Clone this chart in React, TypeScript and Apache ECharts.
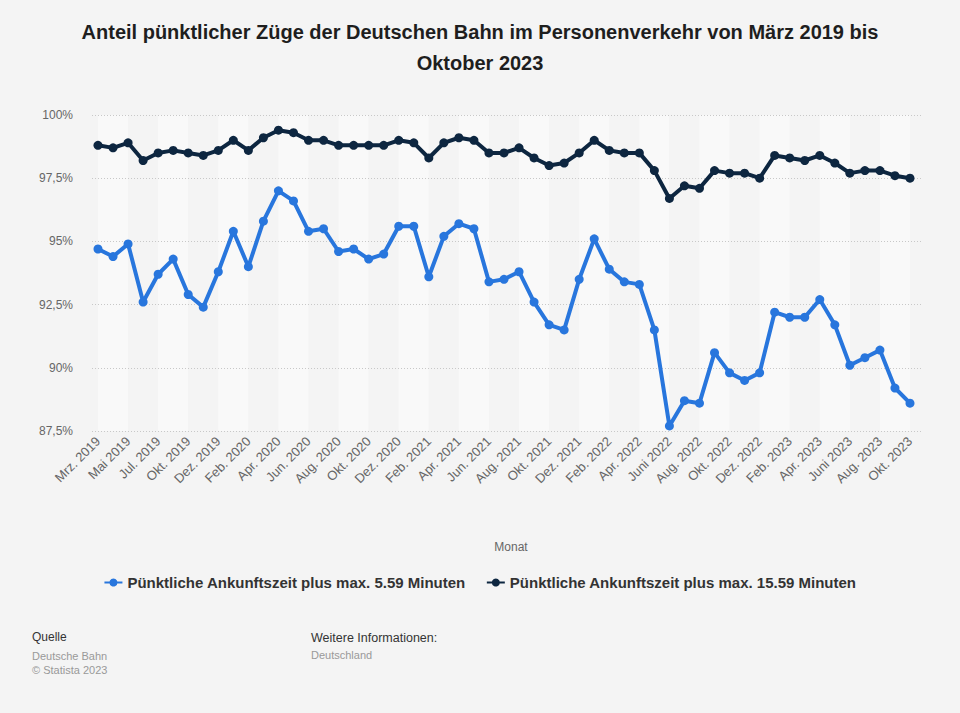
import React, { useEffect, useRef } from "react";
import * as echarts from "echarts";

const categories = [
  "Mrz. 2019", "Apr. 2019", "Mai 2019", "Jun. 2019", "Jul. 2019", "Aug. 2019", "Okt. 2019", "Nov. 2019", "Dez. 2019",
  "Jan. 2020", "Feb. 2020", "Mrz. 2020", "Apr. 2020", "Mai 2020", "Jun. 2020", "Jul. 2020", "Aug. 2020", "Sep. 2020",
  "Okt. 2020", "Nov. 2020", "Dez. 2020", "Jan. 2021", "Feb. 2021", "Mrz. 2021", "Apr. 2021", "Mai 2021", "Jun. 2021",
  "Jul. 2021", "Aug. 2021", "Sep. 2021", "Okt. 2021", "Nov. 2021", "Dez. 2021", "Jan. 2022", "Feb. 2022", "Mrz. 2022",
  "Apr. 2022", "Mai 2022", "Juni 2022", "Juli 2022", "Aug. 2022", "Sep. 2022", "Okt. 2022", "Nov. 2022", "Dez. 2022",
  "Jan. 2023", "Feb. 2023", "Mrz. 2023", "Apr. 2023", "Mai 2023", "Juni 2023", "Juli 2023", "Aug. 2023", "Sep. 2023",
  "Okt. 2023",
];

const seriesNames = [
  "Pünktliche Ankunftszeit plus max. 5.59 Minuten",
  "Pünktliche Ankunftszeit plus max. 15.59 Minuten",
];

const values559 = [
  94.7, 94.4, 94.9, 92.6, 93.7, 94.3, 92.9, 92.4, 93.8, 95.4,
  94.0, 95.8, 97.0, 96.6, 95.4, 95.5, 94.6, 94.7, 94.3, 94.5,
  95.6, 95.6, 93.6, 95.2, 95.7, 95.5, 93.4, 93.5, 93.8, 92.6,
  91.7, 91.5, 93.5, 95.1, 93.9, 93.4, 93.3, 91.5, 87.7, 88.7,
  88.6, 90.6, 89.8, 89.5, 89.8, 92.2, 92.0, 92.0, 92.7, 91.7,
  90.1, 90.4, 90.7, 89.2, 88.6,
];

const values1559 = [
  98.8, 98.7, 98.9, 98.2, 98.5, 98.6, 98.5, 98.4, 98.6, 99.0,
  98.6, 99.1, 99.4, 99.3, 99.0, 99.0, 98.8, 98.8, 98.8, 98.8,
  99.0, 98.9, 98.3, 98.9, 99.1, 99.0, 98.5, 98.5, 98.7, 98.3,
  98.0, 98.1, 98.5, 99.0, 98.6, 98.5, 98.5, 97.8, 96.7, 97.2,
  97.1, 97.8, 97.7, 97.7, 97.5, 98.4, 98.3, 98.2, 98.4, 98.1,
  97.7, 97.8, 97.8, 97.6, 97.5,
];

const titleLines = [
  "Anteil pünktlicher Züge der Deutschen Bahn im Personenverkehr von März 2019 bis",
  "Oktober 2023",
];

const yMin = 87.5;
const yMax = 100;
const yStep = 2.5;

const FONT = "Arial, 'Liberation Sans', Helvetica, sans-serif";

export default function App() {
  const ref = useRef<HTMLDivElement>(null);

  useEffect(() => {
    document.body.style.margin = "0";
    if (!ref.current) return;
    const chart = echarts.init(ref.current, undefined, { renderer: "svg" });
    const fmtPct = (v: number) => String(v).replace(".", ",") + "%";
    chart.setOption({
      animation: false,
      backgroundColor: "#f4f4f4",
      textStyle: { fontFamily: FONT },
      grid: [
        { left: 98, right: 50, top: 115, bottom: 282, containLabel: false },
        { left: 92, right: 39, top: 115, bottom: 282, containLabel: false },
      ],
      xAxis: [
        {
          type: "category",
          gridIndex: 0,
          data: categories,
          boundaryGap: false,
          axisLine: { show: false },
          axisTick: { show: false, interval: 1 },
          axisLabel: {
            interval: 1,
            rotate: 45,
            color: "#666",
            fontSize: 13,
            fontFamily: FONT,
            margin: 8,
          },
          splitLine: { show: false },
          splitArea: {
            show: true,
            interval: 1,
            areaStyle: { color: ["#f9f9f9", "#f4f4f4"] },
          },
        },
        {
          type: "value",
          gridIndex: 1,
          show: false,
          min: 0,
          max: 1,
        },
      ],
      yAxis: [
        {
          type: "value",
          gridIndex: 0,
          min: yMin,
          max: yMax,
          interval: yStep,
          axisLabel: { show: false },
          axisLine: { show: false },
          axisTick: { show: false },
          splitLine: { show: false },
        },
        {
          type: "value",
          gridIndex: 1,
          z: 1,
          min: yMin,
          max: yMax,
          interval: yStep,
          axisLine: { show: false },
          axisTick: { show: false },
          axisLabel: {
            color: "#666",
            fontSize: 12,
            fontFamily: FONT,
            margin: 19,
            formatter: (v: number) => fmtPct(v),
          },
          splitLine: {
            show: true,
            lineStyle: { color: "#c8c8c8", type: [1, 2], width: 1 },
          },
        },
      ],
      legend: {
        top: 570,
        left: "center",
        itemGap: 20,
        itemWidth: 18,
        itemHeight: 10,
        textStyle: { fontFamily: FONT, fontSize: 15, fontWeight: "bold", color: "#333" },
        data: seriesNames,
      },
      graphic: [
        {
          type: "text",
          x: 480,
          y: 22,
          style: {
            text: titleLines[0],
            align: "center",
            fontFamily: FONT,
            fontSize: 20,
            fontWeight: "bold",
            fill: "#1e1e1e",
          },
        },
        {
          type: "text",
          x: 480,
          y: 53,
          style: {
            text: titleLines[1],
            align: "center",
            fontFamily: FONT,
            fontSize: 20,
            fontWeight: "bold",
            fill: "#1e1e1e",
          },
        },
        {
          type: "text",
          x: 511,
          y: 541,
          style: { text: "Monat", align: "center", fontFamily: FONT, fontSize: 12, fill: "#666" },
        },
        {
          type: "text",
          left: 32,
          top: 631,
          style: { text: "Quelle", fontFamily: FONT, fontSize: 12, fill: "#333" },
        },
        {
          type: "text",
          left: 32,
          top: 649,
          style: { text: "Deutsche Bahn\n© Statista 2023", fontFamily: FONT, fontSize: 11, fill: "#999", lineHeight: 14 },
        },
        {
          type: "text",
          left: 311,
          top: 631,
          style: { text: "Weitere Informationen:", fontFamily: FONT, fontSize: 12.5, fill: "#333" },
        },
        {
          type: "text",
          left: 311,
          top: 649,
          style: { text: "Deutschland", fontFamily: FONT, fontSize: 11, fill: "#999" },
        },
      ],
      series: [
        {
          name: seriesNames[0],
          type: "line",
          xAxisIndex: 0,
          yAxisIndex: 0,
          data: values559,
          symbol: "circle",
          symbolSize: 9,
          lineStyle: { width: 4, color: "#2876dd" },
          itemStyle: { color: "#2876dd" },
          z: 3,
        },
        {
          name: seriesNames[1],
          type: "line",
          xAxisIndex: 0,
          yAxisIndex: 0,
          data: values1559,
          symbol: "circle",
          symbolSize: 9,
          lineStyle: { width: 4, color: "#0d2640" },
          itemStyle: { color: "#0d2640" },
          z: 4,
        },
      ],
    });
    return () => chart.dispose();
  }, []);

  return (
    <div
      ref={ref}
      style={{ position: "absolute", left: 0, top: 0, width: 960, height: 713 }}
    />
  );
}
